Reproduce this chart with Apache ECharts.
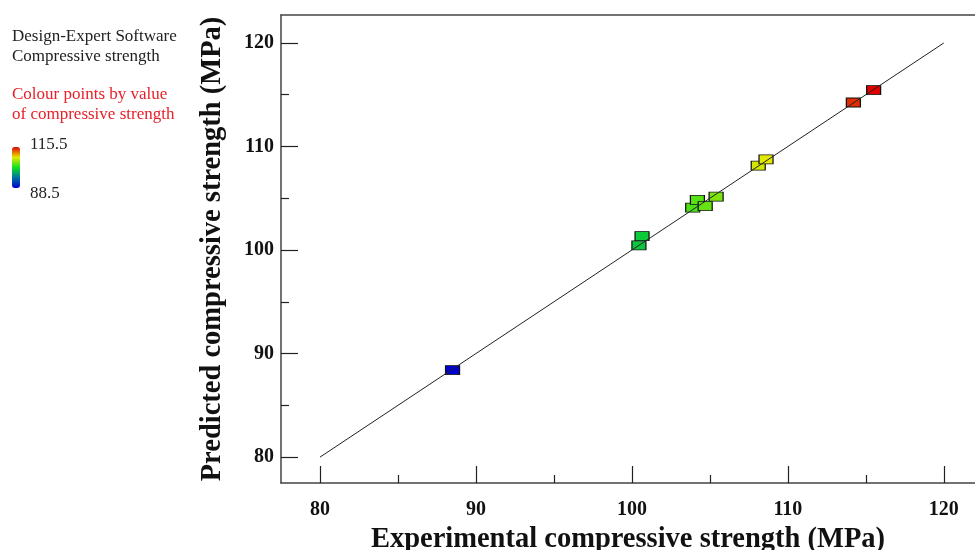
<html>
    <head>
        <meta charset="utf-8">
        <script src='https://cdn.jsdelivr.net/npm/echarts@6/dist/echarts.min.js'></script>
    </head>
    <body>
        <style>
            html, body, #main {
                width: 100%;
                height: 100%;
                margin: 0;
                background: #fff;
            }
        </style>
        <div id='main'></div>
        <script>
            // experimental (actual) vs predicted compressive strength, MPa
            var actual    = [88.5, 100.45, 100.65, 103.9, 104.2, 104.7, 105.4, 108.1, 108.6, 114.2, 115.5];
            var predicted = [88.4, 100.45, 101.35, 104.1, 104.85, 104.25, 105.15, 108.15, 108.75, 114.25, 115.45];
            var majorTicks = [80, 90, 100, 110, 120];
            var minorTicks = [85, 95, 105, 115];
            var lineEnds = [80, 120];
            var colourRange = [88.5, 115.5];

            var chart = echarts.init(document.getElementById('main'));

            var serif = "'Liberation Serif', 'Times New Roman', serif";

            var points = actual.map(function (a, i) {
                return [a, predicted[i]];
            });

            var axisBase = {
                type: 'value',
                min: 77.5,
                splitLine: { show: false },
                axisLine: { show: true, lineStyle: { color: '#444', width: 1.5 } },
                axisTick: {
                    show: true, inside: true, length: 17,
                    customValues: majorTicks,
                    lineStyle: { color: '#222', width: 1.2 }
                },
                axisLabel: {
                    customValues: majorTicks,
                    fontFamily: serif, fontWeight: 'bold', fontSize: 20, color: '#111'
                }
            };

            function minorAxis(pos, max) {
                return {
                    type: 'value', min: 77.5, max: max, position: pos,
                    splitLine: { show: false },
                    axisLine: { show: false },
                    axisLabel: { show: false },
                    axisTick: {
                        show: true, inside: true, length: 8,
                        customValues: minorTicks,
                        lineStyle: { color: '#222', width: 1.2 }
                    }
                };
            }

            var txt = '17px ' + serif;

            var option = {
                backgroundColor: '#fff',
                animation: false,
                grid: { left: 281, top: 15, right: 0, bottom: 67, outerBoundsMode: 'none', containLabel: false },
                xAxis: [
                    echarts.util.merge({
                        max: 122,
                        position: 'bottom',
                        name: 'Experimental compressive strength (MPa)',
                        nameLocation: 'middle',
                        nameGap: 38,
                        nameTextStyle: { fontFamily: serif, fontWeight: 'bold', fontSize: 28.5, color: '#111' },
                        axisLabel: { margin: 17 }
                    }, axisBase, false),
                    minorAxis('bottom', 122),
                    {
                        type: 'value', min: 77.5, max: 122, position: 'top',
                        splitLine: { show: false },
                        axisTick: { show: false },
                        axisLabel: { show: false },
                        axisLine: { show: true, lineStyle: { color: '#444', width: 1.5 } }
                    }
                ],
                yAxis: [
                    echarts.util.merge({
                        max: 122.7,
                        position: 'left',
                        name: 'Predicted compressive strength (MPa)',
                        nameLocation: 'middle',
                        nameGap: 54,
                        nameTextStyle: { fontFamily: serif, fontWeight: 'bold', fontSize: 28.5, color: '#111' },
                        axisLabel: { margin: 7 }
                    }, axisBase, false),
                    minorAxis('left', 122.7)
                ],
                visualMap: {
                    type: 'continuous',
                    seriesIndex: 0,
                    dimension: 0,
                    min: colourRange[0],
                    max: colourRange[1],
                    calculable: false,
                    realtime: false,
                    text: null,
                    left: 12,
                    top: 147,
                    itemWidth: 8,
                    itemHeight: 41,
                    padding: 0,
                    inRange: {
                        color: ['#0000d0', '#0070a0', '#10e020', '#e8e800', '#e00000']
                    }
                },
                graphic: [
                    { type: 'text', left: 12, top: 28, style: { text: 'Design-Expert Software', font: txt, fill: '#222' } },
                    { type: 'text', left: 12, top: 48, style: { text: 'Compressive strength', font: txt, fill: '#222' } },
                    { type: 'text', left: 12, top: 86, style: { text: 'Colour points by value', font: txt, fill: '#e8202a' } },
                    { type: 'text', left: 12, top: 106, style: { text: 'of compressive strength', font: txt, fill: '#e8202a' } },
                    { type: 'text', left: 30, top: 136, style: { text: String(colourRange[1]), font: txt, fill: '#222' } },
                    { type: 'text', left: 30, top: 185, style: { text: String(colourRange[0]), font: txt, fill: '#222' } }
                ],
                series: [
                    {
                        type: 'scatter',
                        xAxisIndex: 0,
                        yAxisIndex: 0,
                        symbol: 'rect',
                        symbolSize: [14, 9],
                        itemStyle: { borderColor: '#111', borderWidth: 1, opacity: 1 },
                        data: points,
                        z: 2
                    },
                    {
                        type: 'line',
                        xAxisIndex: 0,
                        yAxisIndex: 0,
                        data: lineEnds.map(function (v) { return [v, v]; }),
                        showSymbol: false,
                        symbol: 'none',
                        lineStyle: { color: '#222', width: 1 },
                        z: 3
                    }
                ]
            };

            chart.setOption(option);

            window.onresize = function () {
                chart.resize();
            }
        </script>
    </body>
</html>
